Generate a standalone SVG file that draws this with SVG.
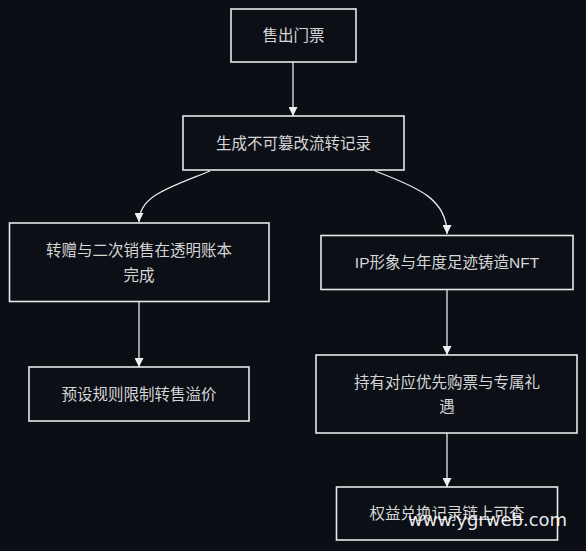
<svg xmlns="http://www.w3.org/2000/svg" width="586" height="551" viewBox="0 0 586 551">
<defs>
<style>
.bg{fill:#0b0e15}
.box{fill:#0c0f16;stroke:#e8e8e8;stroke-width:1.6}
.lbl{font-family:"Liberation Sans","Noto Sans CJK SC",sans-serif;font-size:15.5px;fill:#d6d6d6;text-anchor:middle;dominant-baseline:central}
.edge{fill:none;stroke:#e8e8e8;stroke-width:1.3}
.wm{font-family:"DejaVu Sans",sans-serif;font-size:18px;fill:#ffffff;fill-opacity:0.92}
</style>
<marker id="arr" viewBox="0 0 10 10" refX="10" refY="5" markerWidth="9" markerHeight="9" markerUnits="userSpaceOnUse" orient="auto">
<path d="M0,0 L10,5 L0,10 z" fill="#f0f0f0"/>
</marker>
</defs>
<rect class="bg" x="0" y="0" width="586" height="551"/>
<g id="connectors">
<path class="edge" d="M293,62 L293,116" marker-end="url(#arr)"/>
<path class="edge" d="M210,171 C168,188 139,196 139,222" marker-end="url(#arr)"/>
<path class="edge" d="M375,171 C420,188 447,200 447,234" marker-end="url(#arr)"/>
<path class="edge" d="M139,302 L139,367" marker-end="url(#arr)"/>
<path class="edge" d="M447,289 L447,355" marker-end="url(#arr)"/>
<path class="edge" d="M447,433 L447,487" marker-end="url(#arr)"/>
</g>
<g id="n1">
<rect class="box" x="231" y="9" width="125" height="53"/>
<text class="lbl" x="293.5" y="35.5">售出门票</text>
</g>
<g id="n2">
<rect class="box" x="183" y="116" width="221" height="54"/>
<text class="lbl" x="293.5" y="143">生成不可篡改流转记录</text>
</g>
<g id="n3">
<rect class="box" x="9.5" y="223" width="259.5" height="78.5"/>
<text class="lbl" x="139" y="250.5">转赠与二次销售在透明账本</text>
<text class="lbl" x="139" y="275">完成</text>
</g>
<g id="n4">
<rect class="box" x="321" y="235.5" width="252" height="54"/>
<text class="lbl" x="447" y="262.5">IP形象与年度足迹铸造NFT</text>
</g>
<g id="n5">
<rect class="box" x="29" y="367" width="220" height="54"/>
<text class="lbl" x="139" y="394">预设规则限制转售溢价</text>
</g>
<g id="n6">
<rect class="box" x="316" y="355" width="261" height="78"/>
<text class="lbl" x="447" y="382.5">持有对应优先购票与专属礼</text>
<text class="lbl" x="447" y="406">遇</text>
</g>
<g id="n7">
<rect class="box" x="336.5" y="487" width="221" height="53"/>
<text class="lbl" x="447" y="513.5">权益兑换记录链上可查</text>
</g>
<text class="wm" x="408" y="526">www.ygrweb.com</text>
</svg>
